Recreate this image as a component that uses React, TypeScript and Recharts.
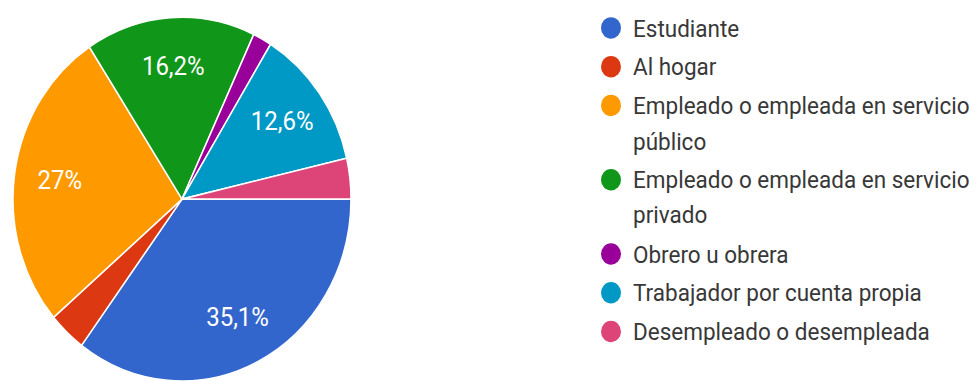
import React from "react";
import { PieChart, Pie, Cell, Legend } from "recharts";

const categories = [
  "Estudiante",
  "Al hogar",
  "Empleado o empleada en servicio público",
  "Empleado o empleada en servicio privado",
  "Obrero u obrera",
  "Trabajador por cuenta propia",
  "Desempleado o desempleada",
];
const counts = [39, 4, 30, 18, 2, 14, 4];
const colors = ["#3366cc", "#dc3912", "#ff9900", "#109618", "#990099", "#0099c6", "#dd4477"];

const data = categories.map((name, i) => ({ name, value: counts[i] }));

const RAD = Math.PI / 180;

const fmtPct = (p: number) => {
  const v = Math.round(p * 1000) / 10;
  const s = Number.isInteger(v) ? String(v) : v.toFixed(1).replace(".", ",");
  return s + "%";
};

const renderLabel = (props: any) => {
  const { cx, cy, midAngle, outerRadius, percent } = props;
  if (percent < 0.05) return null;
  const r = outerRadius * 0.73;
  const x = cx + r * Math.cos(-midAngle * RAD);
  const y = cy + r * Math.sin(-midAngle * RAD);
  return (
    <text
      x={x}
      y={y}
      fill="#ffffff"
      textAnchor="middle"
      dominantBaseline="central"
      fontSize={24}
      fontFamily="Roboto, sans-serif"
    >
      {fmtPct(percent)}
    </text>
  );
};

const LegendContent = () => {
  return (
    <div style={{ fontFamily: "Roboto, sans-serif", fontSize: 22.5, color: "#383838" }}>
      {categories.map((name, i) => (
        <div
          key={name}
          style={{ display: "flex", alignItems: "flex-start", marginBottom: 3.7 }}
        >
          <div
            style={{
              width: 20,
              height: 20,
              borderRadius: 10,
              background: colors[i],
              marginTop: 6.25,
              marginRight: 12,
              flex: "0 0 auto",
            }}
          />
          <div style={{ lineHeight: "32.5px", width: 342 }}>{name}</div>
        </div>
      ))}
    </div>
  );
};

export default function App() {
  return (
    <div
      style={{
        position: "absolute",
        left: 0,
        top: 0,
        width: 979,
        height: 354,
        transform: "scale(1, 1.0763)",
        transformOrigin: "0 0",
        background: "#ffffff",
        fontFamily: "Roboto, sans-serif",
      }}
    >
      <PieChart width={979} height={354} margin={{ top: 0, right: 0, bottom: 0, left: 0 }}>
        <Pie
          data={data}
          dataKey="value"
          nameKey="name"
          cx={182}
          cy={185}
          outerRadius={169}
          startAngle={0}
          endAngle={-360}
          stroke="#ffffff"
          strokeWidth={1.5}
          label={renderLabel}
          labelLine={false}
          isAnimationActive={false}
        >
          {data.map((d, i) => (
            <Cell key={d.name} fill={colors[i]} />
          ))}
        </Pie>
        <Legend
          layout="vertical"
          align="right"
          verticalAlign="top"
          content={<LegendContent />}
          wrapperStyle={{ left: 601, top: 9.75, width: 375 }}
        />
      </PieChart>
    </div>
  );
}
